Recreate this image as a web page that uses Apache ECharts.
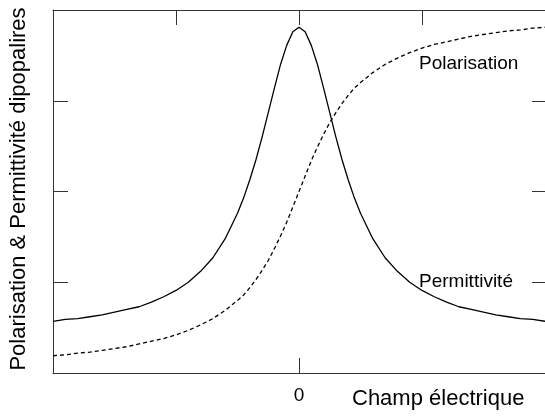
<!DOCTYPE html>
<html>
<head>
<meta charset="utf-8">
<script src="https://cdn.jsdelivr.net/npm/echarts@6/dist/echarts.min.js"></script>
<style>
  html, body { margin: 0; padding: 0; background: #fff; }
  #main { width: 545px; height: 417px; }
</style>
</head>
<body>
<div id="main"></div>
<script>
// champ électrique (axe x, unités arbitraires)
var champ = [-2, -1.9, -1.8, -1.7, -1.6, -1.5, -1.4, -1.3, -1.2, -1.1, -1, -0.9, -0.8, -0.7, -0.6,
  -0.5, -0.45, -0.4, -0.35, -0.3, -0.25, -0.2, -0.15, -0.1, -0.05, 0, 0.05, 0.1, 0.15, 0.2, 0.25,
  0.3, 0.35, 0.4, 0.45, 0.5, 0.6, 0.7, 0.8, 0.9, 1, 1.1, 1.2, 1.3, 1.4, 1.5, 1.6, 1.7, 1.8, 1.9, 2];

// courbe pleine
var permittivite = [0.57, 0.59, 0.60, 0.62, 0.64, 0.67, 0.70, 0.73, 0.78, 0.84, 0.91, 1.00, 1.12, 1.27, 1.48,
  1.76, 1.93, 2.13, 2.35, 2.60, 2.87, 3.14, 3.40, 3.61, 3.76, 3.81, 3.76, 3.61, 3.40, 3.14, 2.87,
  2.60, 2.35, 2.13, 1.93, 1.76, 1.48, 1.27, 1.12, 1.00, 0.91, 0.84, 0.78, 0.73, 0.70, 0.67, 0.64, 0.62, 0.60, 0.59, 0.57];

// courbe pointillée
var polarisation = [0.19, 0.20, 0.22, 0.23, 0.25, 0.27, 0.29, 0.32, 0.35, 0.38, 0.42, 0.47, 0.53, 0.60, 0.69,
  0.80, 0.86, 0.94, 1.03, 1.13, 1.24, 1.37, 1.51, 1.66, 1.83, 2.00, 2.17, 2.34, 2.49, 2.63, 2.76,
  2.87, 2.97, 3.06, 3.14, 3.20, 3.31, 3.40, 3.47, 3.53, 3.58, 3.62, 3.65, 3.68, 3.71, 3.73, 3.75, 3.77, 3.78, 3.80, 3.81];

var ticksBas = [0];
var ticksHaut = [-1, 0, 1];
var ticksY = [1, 2, 3];

function paires(xs, ys) {
  var out = [];
  for (var i = 0; i < xs.length; i++) out.push([xs[i], ys[i]]);
  return out;
}

var police = 'Liberation Sans, Arial, sans-serif';
var axe = { show: true, onZero: false, lineStyle: { color: '#333', width: 1 } };

var chart = echarts.init(document.getElementById('main'));
chart.setOption({
  animation: false,
  backgroundColor: '#fff',
  grid: { left: 53, right: 0, top: 10, bottom: 44 },
  xAxis: [{
    type: 'value', position: 'bottom', min: -2, max: 2, interval: 1,
    axisLine: axe,
    axisTick: { show: true, inside: true, length: 15, customValues: ticksBas, lineStyle: { color: '#333' } },
    axisLabel: { show: true, customValues: ticksBas, color: '#000', fontSize: 19, fontFamily: police, margin: 13 },
    splitLine: { show: false }
  }, {
    type: 'value', position: 'top', min: -2, max: 2, interval: 1,
    axisLine: axe,
    axisTick: { show: true, inside: true, length: 15, customValues: ticksHaut, lineStyle: { color: '#333' } },
    axisLabel: { show: false },
    splitLine: { show: false }
  }],
  yAxis: [{
    type: 'value', position: 'left', min: 0, max: 4, interval: 1,
    axisLine: axe,
    axisTick: { show: true, inside: true, length: 15, customValues: ticksY, lineStyle: { color: '#333' } },
    axisLabel: { show: false },
    splitLine: { show: false }
  }, {
    type: 'value', position: 'right', min: 0, max: 4, interval: 1,
    axisLine: axe,
    axisTick: { show: true, inside: true, length: 13, customValues: ticksY, lineStyle: { color: '#333' } },
    axisLabel: { show: false },
    splitLine: { show: false }
  }],
  series: [{
    name: 'Permittivité',
    type: 'line',
    data: paires(champ, permittivite),
    showSymbol: false,
    lineStyle: { color: '#000', width: 1.3 }
  }, {
    name: 'Polarisation',
    type: 'line',
    data: paires(champ, polarisation),
    showSymbol: false,
    lineStyle: { color: '#000', width: 1.3, type: [4, 3] }
  }],
  graphic: [
    { type: 'text', left: 419, top: 54, style: { text: 'Polarisation', font: '19px ' + police, fill: '#000' } },
    { type: 'text', left: 419, top: 272, style: { text: 'Permittivité', font: '19px ' + police, fill: '#000' } },
    { type: 'text', left: 352, top: 388, style: { text: 'Champ électrique', font: '22px ' + police, fill: '#000' } },
    { type: 'text', x: 19, y: 189, rotation: Math.PI / 2,
      style: { text: 'Polarisation & Permittivité dipopalires', font: '22px ' + police, fill: '#000', align: 'center', verticalAlign: 'middle' } }
  ]
});
</script>
</body>
</html>
